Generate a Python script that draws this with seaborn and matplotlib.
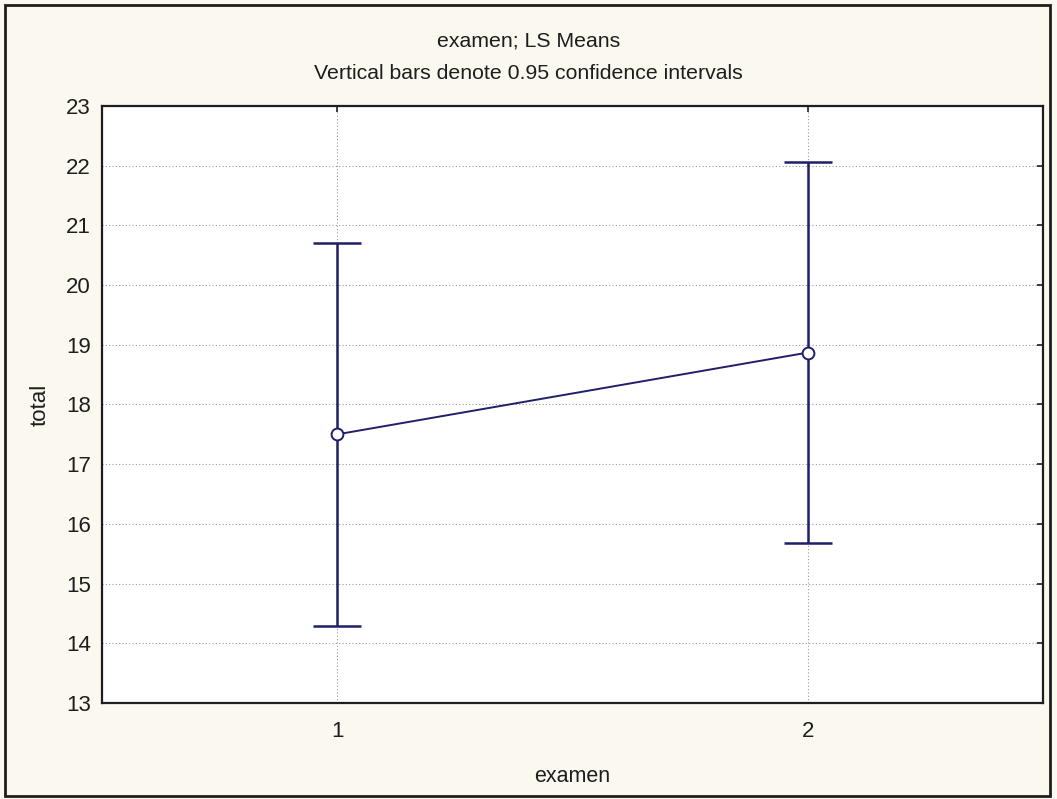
import matplotlib
matplotlib.use("Agg")
from matplotlib import pyplot as plt
from matplotlib.patches import Rectangle
import seaborn as sns
import numpy as np
import pandas as pd

examen = [1, 2]
means = [17.5, 18.87]
ci_low = [14.29, 15.68]
ci_high = [20.71, 22.06]
y_ticks = list(range(13, 24))

sns.set_style("white")
plt.rcParams['font.family'] = ['Liberation Sans', 'DejaVu Sans']

navy = '#1f1f6a'
ink = '#1e1e1e'
fig = plt.figure(figsize=(10.57, 7.99), dpi=100, facecolor='#fbf8ef')
ax = fig.add_axes([0.0965, 0.1202, 0.8903, 0.7471])
ax.set_facecolor('white')

df = pd.DataFrame({'examen': examen, 'total': means})
means = np.array(means)
yerr = [means - np.array(ci_low), np.array(ci_high) - means]

ax.errorbar(examen, means, yerr=yerr, fmt='none', ecolor=navy,
            elinewidth=1.8, capsize=17.5, capthick=1.8, zorder=3)
sns.lineplot(data=df, x='examen', y='total', ax=ax, color=navy, lw=1.4,
             marker='o', markersize=8.5, markerfacecolor='white',
             markeredgecolor=navy, markeredgewidth=1.4, zorder=4)

ax.set_xlim(0.5, 2.5)
ax.set_ylim(13, 23)
ax.set_xticks(examen)
ax.set_xticklabels([str(e) for e in examen])
ax.set_yticks(y_ticks)
ax.grid(True, color='#9a9a9a', linestyle=(0, (1, 2)), linewidth=0.8)
ax.tick_params(direction='in', length=4, width=1.2, top=True, right=True,
               labelsize=16, colors=ink)
ax.tick_params(axis='y', pad=8)
ax.tick_params(axis='x', pad=13)
for s in ax.spines.values():
    s.set_color(ink)
    s.set_linewidth(1.6)

ax.set_xlabel('examen', fontsize=15.5, labelpad=17, color=ink)
ax.set_ylabel('total', fontsize=16, labelpad=11, color=ink)

fig.text(0.5, 0.949, 'examen; LS Means', ha='center', va='center',
         fontsize=15.3, color=ink)
fig.text(0.5, 0.908, 'Vertical bars denote 0.95 confidence intervals',
         ha='center', va='center', fontsize=15.3, color=ink)

fig.patches.append(Rectangle((0.005, 0.004), 0.988, 0.99, transform=fig.transFigure,
                             fill=False, edgecolor=ink, linewidth=2))

fig.savefig('out.png', dpi=100, facecolor=fig.get_facecolor())
